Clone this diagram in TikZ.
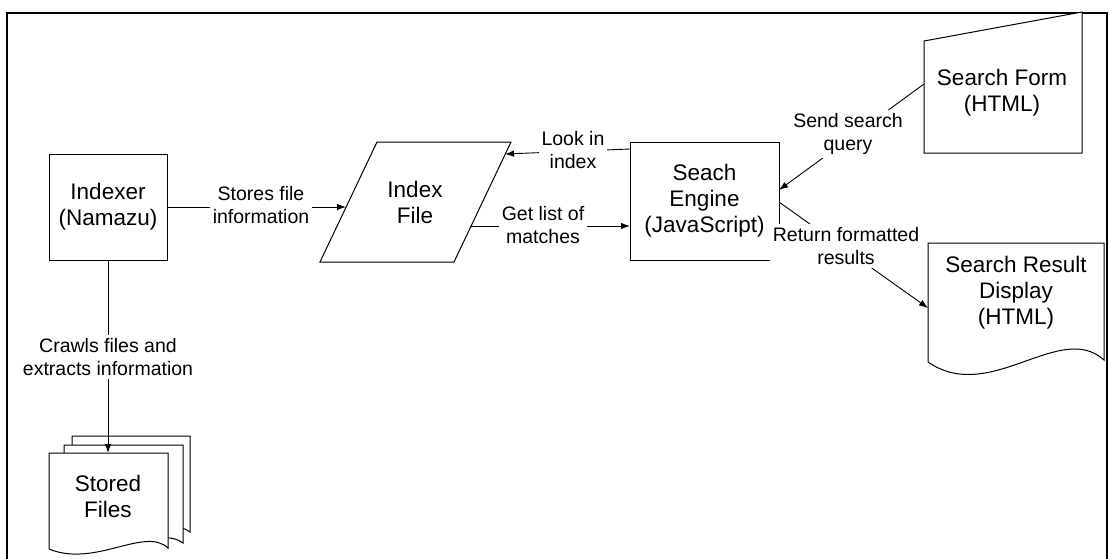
\documentclass[tikz,border=0pt]{standalone}
\usepackage{fontspec}
\setmainfont{Liberation Sans}
\usetikzlibrary{arrows.meta}
\begin{document}
\begin{tikzpicture}[x=1pt,y=-1pt,
  shp/.style={draw=black, line width=1pt, fill=white},
  boxtext/.style={align=center, font=\fontsize{22.5}{26}\selectfont, inner sep=0pt},
  lbl/.style={align=center, font=\fontsize{19.5}{23}\selectfont, fill=white, inner sep=3pt},
  conn/.style={draw=black, line width=0.9pt, -{Latex[length=9pt,width=6.5pt]}},
  frame/.style={draw=black, line width=1.4pt}]
\useasboundingbox (0,0) rectangle (1109,558);
\draw[frame] (7,13) rectangle (1107,563);

% Indexer
\node[shp, boxtext, minimum width=118pt, minimum height=106pt] (indexer) at (108,207) {Indexer\\(Namazu)};

% Index File (parallelogram)
\draw[shp] (377,142) -- (511,142) -- (454,262) -- (320,262) -- cycle;
\node[boxtext] (indexfile) at (415,202) {Index\\File};
\coordinate (ifL) at (346,207);
\coordinate (ifLook) at (505,154);
\coordinate (ifGet) at (471,226);

% Search Engine
\node[shp, boxtext, minimum width=149pt, minimum height=118pt] (engine) at (704.5,201) {Seach\\Engine\\(JavaScript)};
\coordinate (engLook) at (630,149);
\coordinate (engGet) at (630,226);
\coordinate (engSend) at (779,190);
\coordinate (engRet) at (779,202);

% Search Form (manual input)
\draw[shp] (924,41) -- (1082,12) -- (1082,153) -- (924,153) -- cycle;
\node[boxtext] (form) at (1002,93) {Search Form\\(HTML)};
\coordinate (formL) at (924,84);

% Search Result Display (document)
\draw[shp] (928,243) -- (1104,243) -- (1104,360) .. controls (1060,320) and (990,405) .. (928,362) -- cycle;
\node[boxtext] (result) at (1016,293) {Search Result\\Display\\(HTML)};
\coordinate (resL) at (928,308);

% Stored Files (multi-document)
\draw[shp] (72,436) -- (190,436) -- (190,532) .. controls (170,515) and (115,548) .. (72,530) -- cycle;
\draw[shp] (64,445) -- (183,445) -- (183,543) .. controls (160,525) and (105,560) .. (64,540) -- cycle;
\draw[shp] (49,453) -- (168,453) -- (168,548) .. controls (145,526) and (95,568) .. (49,549) -- cycle;
\node[boxtext] (stored) at (108,496) {Stored\\Files};
\coordinate (storedTop) at (108,453);

% Connectors
\draw[conn] (indexer.east) -- (ifL);
\draw[conn] (engLook) -- (ifLook);
\draw[conn] (ifGet) -- (engGet);
\draw[conn] (formL) -- (engSend);
\draw[conn] (engRet) -- (resL);
\draw[conn] (indexer.south) -- (storedTop);

% Labels
\node[lbl] (l1) at (261,205) {Stores file\\information};
\node[lbl] (l2) at (573,150) {Look in\\index};
\node[lbl] (l3) at (543,225) {Get list of\\matches};
\node[lbl] (l4) at (848,134) {Send search\\query};
\node[lbl] (l5) at (846,246) {Return formatted\\results};
\node[lbl] (l6) at (108,357) {Crawls files and\\extracts information};
\end{tikzpicture}
\end{document}
